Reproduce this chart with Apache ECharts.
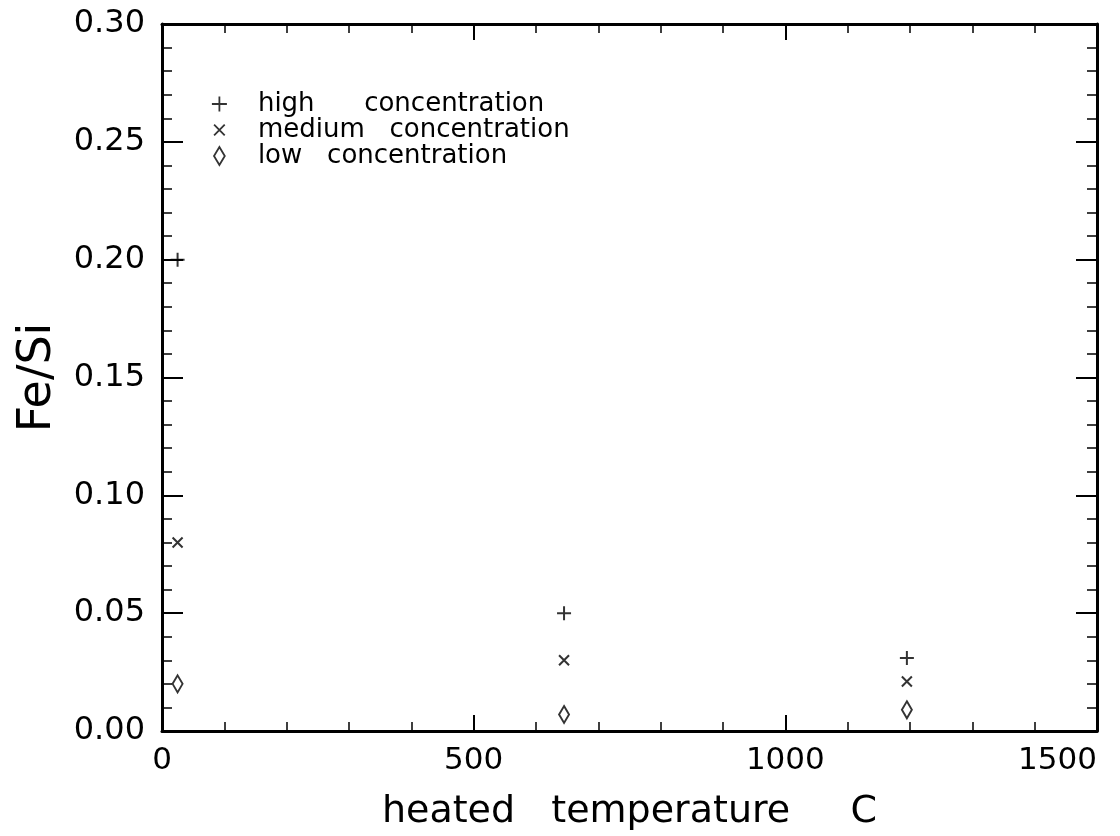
<!DOCTYPE html>
<html>
<head>
<meta charset="utf-8">
<script src="https://cdn.jsdelivr.net/npm/echarts@6/dist/echarts.min.js"></script>
<style>html,body{margin:0;padding:0;background:#fff}#c{width:1120px;height:836px}</style>
</head>
<body>
<div id="c"></div>
<script>
// Data
const temperatures = [25, 645, 1195];
const highConc = [0.200, 0.050, 0.031];
const mediumConc = [0.080, 0.030, 0.021];
const lowConc = [0.020, 0.007, 0.009];
const seriesNames = ['high      concentration', 'medium   concentration', 'low   concentration'];
const xTicks = [0, 500, 1000, 1500];
const yTicks = [0.00, 0.05, 0.10, 0.15, 0.20, 0.25, 0.30];

const FONT = 'DejaVu Sans';
const PLUS = 'path://M0,-10L0,10M-10,0L10,0';
const CROSS = 'path://M-10,-10L10,10M-10,10L10,-10';
const DIAMOND = 'path://M0,-10L6,0L0,10L-6,0Z';
// legend icons (cross padded so it draws smaller than the plus, like the reference)
const LEG_PLUS = 'path://M0,-10L0,10M-10,0L10,0';
const LEG_CROSS = 'path://M-12,-12M12,12M-8.5,-8.5L8.5,8.5M-8.5,8.5L8.5,-8.5';
const LEG_DIAMOND = 'path://M0,-10L6,0L0,10L-6,0Z';

function pairs(ys) { return temperatures.map((t, i) => [t, ys[i]]); }

const lineStyle = { color: '#000', width: 3 };
const baseX = {
  type: 'value', min: xTicks[0], max: xTicks[xTicks.length - 1], interval: 500,
  axisLine: { show: true, onZero: false, lineStyle },
  axisTick: { show: true, inside: true, length: 16, lineStyle: { color: '#000', width: 2 } },
  minorTick: { show: true, splitNumber: 5, length: 9, lineStyle: { color: '#000', width: 1.5 } },
  splitLine: { show: false }
};
const baseY = {
  type: 'value', min: yTicks[0], max: yTicks[yTicks.length - 1], interval: 0.05,
  axisLine: { show: true, onZero: false, lineStyle },
  axisTick: { show: true, inside: true, length: 21, lineStyle: { color: '#000', width: 2 } },
  minorTick: { show: true, splitNumber: 5, length: 10, lineStyle: { color: '#000', width: 1.5 } },
  splitLine: { show: false }
};
const legendItem = { color: 'transparent', borderColor: '#000', borderWidth: 1.8 };

const chart = echarts.init(document.getElementById('c'), null, { renderer: 'canvas' });
chart.setOption({
  backgroundColor: '#fff',
  animation: false,
  grid: { left: 162, right: 23, top: 24, bottom: 104, containLabel: false },
  legend: {
    orient: 'vertical', left: 206, top: 86, itemGap: 0, itemWidth: 15, itemHeight: 18,
    formatter: name => '{t|' + name + '}',
    textStyle: { fontFamily: FONT, fontSize: 26, color: '#000',
      rich: { t: { fontFamily: FONT, fontSize: 26, color: '#000', lineHeight: 26, padding: [0, 0, 0, 26] } } },
    data: [
      { name: seriesNames[0], icon: LEG_PLUS, itemStyle: legendItem },
      { name: seriesNames[1], icon: LEG_CROSS, itemStyle: legendItem },
      { name: seriesNames[2], icon: LEG_DIAMOND, itemStyle: legendItem }
    ]
  },
  xAxis: [
    Object.assign({}, baseX, {
      position: 'bottom',
      name: 'heated   temperature     C', nameLocation: 'middle', nameGap: 62,
      nameTextStyle: { fontFamily: FONT, fontSize: 38, color: '#000' },
      axisLabel: { show: true, margin: 14, fontFamily: FONT, fontSize: 31, color: '#000', alignMaxLabel: 'right',
        formatter: v => String(v) }
    }),
    Object.assign({}, baseX, { position: 'top', axisLabel: { show: false } })
  ],
  yAxis: [
    Object.assign({}, baseY, {
      position: 'left',
      name: 'Fe/Si', nameLocation: 'middle', nameGap: 101,
      nameTextStyle: { fontFamily: FONT, fontSize: 46, color: '#000' },
      axisLabel: { show: true, margin: 17, fontFamily: FONT, fontSize: 32, color: '#000',
        formatter: v => v.toFixed(2) }
    }),
    Object.assign({}, baseY, { position: 'right', axisLabel: { show: false } })
  ],
  series: [
    { name: seriesNames[0], type: 'scatter', data: pairs(highConc), symbol: PLUS, symbolSize: 14,
      itemStyle: { color: 'transparent', borderColor: '#000', borderWidth: 2 } },
    { name: seriesNames[1], type: 'scatter', data: pairs(mediumConc), symbol: CROSS, symbolSize: 10,
      itemStyle: { color: 'transparent', borderColor: '#000', borderWidth: 2 } },
    { name: seriesNames[2], type: 'scatter', data: pairs(lowConc), symbol: DIAMOND, symbolSize: [10, 17],
      itemStyle: { color: 'transparent', borderColor: '#000', borderWidth: 2 } }
  ]
});
</script>
</body>
</html>
